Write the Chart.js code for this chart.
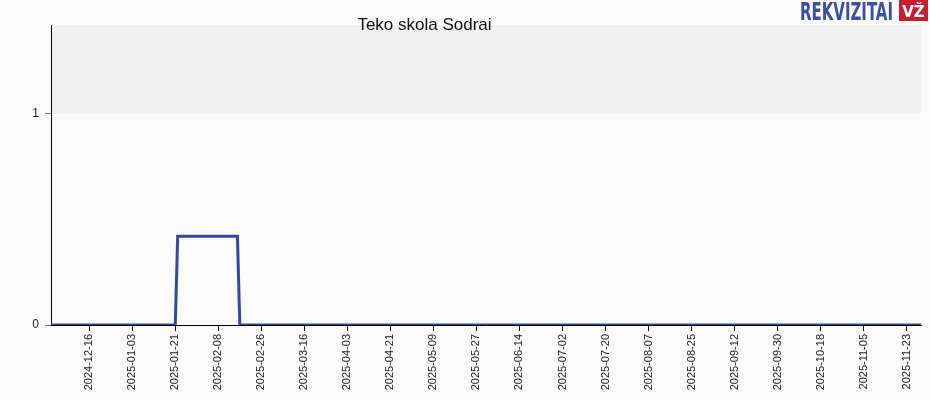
<!DOCTYPE html>
<html>
<head>
<meta charset="utf-8">
<script src="https://cdn.jsdelivr.net/npm/chart.js@4.4.1/dist/chart.umd.min.js"></script>
<style>
  html, body { margin: 0; padding: 0; background: #fafafa; }
  #wrap { width: 930px; height: 400px; }
</style>
</head>
<body>
<div id="wrap"><canvas id="c" width="930" height="400"></canvas></div>
<script>
const chartTitle = 'Teko skola Sodrai';
const pointDates = ['2024-11-30', '2025-01-21', '2025-01-22', '2025-02-16', '2025-02-17', '2025-11-29'];
const pointValues = [0, 0, 0.42, 0.42, 0, 0];
const tickLabels = ['2024-12-16', '2025-01-03', '2025-01-21', '2025-02-08', '2025-02-26', '2025-03-16',
  '2025-04-03', '2025-04-21', '2025-05-09', '2025-05-27', '2025-06-14', '2025-07-02', '2025-07-20',
  '2025-08-07', '2025-08-25', '2025-09-12', '2025-09-30', '2025-10-18', '2025-11-05', '2025-11-23'];
const yTicks = [0, 1];
const xRange = ['2024-11-30', '2025-11-29'];
const yMax = 1.42;

function dayNum(s) { return Date.parse(s + 'T00:00:00Z') / 86400000; }
function dayLabel(d) { return new Date(Math.round(d) * 86400000).toISOString().slice(0, 10); }

const bgPlugin = {
  id: 'bg',
  beforeDraw(chart) {
    const { ctx, chartArea, scales } = chart;
    ctx.save();
    ctx.fillStyle = '#fafafa';
    ctx.fillRect(0, 0, chart.width, chart.height);
    const y1 = scales.y.getPixelForValue(1);
    ctx.fillStyle = '#f0f0f0';
    ctx.fillRect(chartArea.left, chartArea.top, chartArea.right - chartArea.left, y1 - chartArea.top);
    ctx.restore();
  },
  afterDraw(chart) {
    const { ctx } = chart;
    ctx.save();
    // title
    ctx.fillStyle = '#111';
    ctx.font = '17px "Liberation Sans", Arial, sans-serif';
    ctx.textAlign = 'center';
    ctx.textBaseline = 'alphabetic';
    ctx.fillText(chartTitle, 424.5, 30);
    // logo
    ctx.font = 'bold 24px "DejaVu Sans Condensed", "DejaVu Sans", sans-serif';
    const w = ctx.measureText('REKVIZITAI').width;
    ctx.save();
    ctx.translate(800, 20);
    ctx.scale(93 / w, 1);
    ctx.textAlign = 'left';
    ctx.fillStyle = '#3a4ea3';
    ctx.fillText('REKVIZITAI', 0, 0);
    ctx.restore();
    ctx.fillStyle = '#c42032';
    ctx.fillRect(899, 0, 29, 21);
    ctx.fillStyle = '#ffffff';
    ctx.font = 'bold 15px "DejaVu Sans", sans-serif';
    ctx.textAlign = 'center';
    ctx.fillText('VŽ', 913.5, 17);
    ctx.restore();
  }
};

new Chart(document.getElementById('c'), {
  type: 'line',
  data: {
    datasets: [{
      data: pointDates.map((d, i) => ({ x: dayNum(d), y: pointValues[i] })),
      borderColor: 'rgb(52,72,158)',
      borderWidth: 3,
      pointRadius: 0,
      fill: false,
      tension: 0
    }]
  },
  options: {
    responsive: false,
    animation: false,
    devicePixelRatio: 1,
    layout: { padding: { top: 25, right: 9, left: 0, bottom: 0 } },
    plugins: { legend: { display: false }, title: { display: false }, tooltip: { enabled: false } },
    scales: {
      x: {
        type: 'linear',
        min: dayNum(xRange[0]),
        max: dayNum(xRange[1]),
        afterBuildTicks(scale) { scale.ticks = tickLabels.map(t => ({ value: dayNum(t) })); },
        afterFit(scale) { scale.height = 75; },
        border: { display: true, color: '#000', width: 1 },
        grid: { drawOnChartArea: false, drawTicks: true, tickLength: 6, color: '#000' },
        ticks: {
          autoSkip: false,
          minRotation: 90,
          maxRotation: 90,
          padding: 3,
          color: '#222',
          font: { size: 11, family: '"Liberation Sans", Arial, sans-serif' },
          callback: (v) => dayLabel(v)
        }
      },
      y: {
        type: 'linear',
        min: 0,
        max: yMax,
        afterBuildTicks(scale) { scale.ticks = yTicks.map(v => ({ value: v })); },
        afterFit(scale) { scale.width = 51; },
        border: { display: true, color: '#000', width: 1 },
        grid: { drawOnChartArea: false, drawTicks: true, tickLength: 6, color: '#777' },
        ticks: {
          padding: 6,
          color: '#222',
          font: { size: 12, family: '"Liberation Sans", Arial, sans-serif' },
          callback: (v) => String(v)
        }
      }
    }
  },
  plugins: [bgPlugin]
});
</script>
</body>
</html>
